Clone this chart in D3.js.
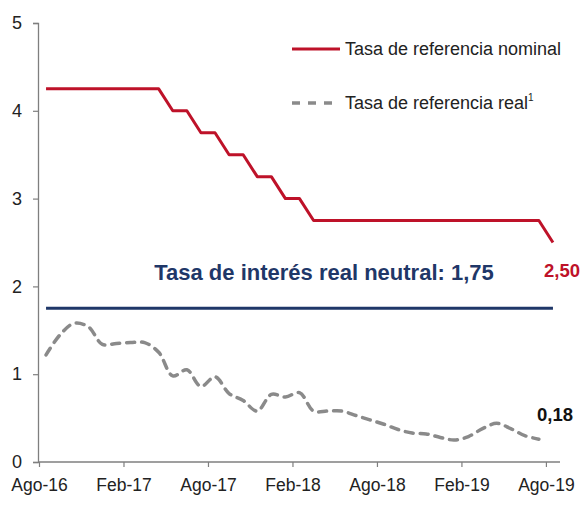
<!DOCTYPE html>
<html>
    <head>
        <script src="https://cdn.jsdelivr.net/npm/d3@7"></script>
        <style>
            body { margin: 0; background: #fff; }
            text { font-family: "Liberation Sans", Arial, sans-serif; }
        </style>
    </head>
    <body>
        <svg id="chart" width="586" height="505"></svg>
        <script>
            // Data (monthly, Ago-16 .. Ago-19)
            var tickLabels = ["Ago-16", "Feb-17", "Ago-17", "Feb-18", "Ago-18", "Feb-19", "Ago-19"];
            var tickIndex = [0, 6, 12, 18, 24, 30, 36];
            var nominal = [4.25, 4.25, 4.25, 4.25, 4.25, 4.25, 4.25, 4.25, 4.25, 4.0, 4.0, 3.75, 3.75,
                           3.5, 3.5, 3.25, 3.25, 3.0, 3.0, 2.75, 2.75, 2.75, 2.75, 2.75, 2.75, 2.75,
                           2.75, 2.75, 2.75, 2.75, 2.75, 2.75, 2.75, 2.75, 2.75, 2.75, 2.5];
            var real = [1.22, 1.45, 1.58, 1.54, 1.34, 1.35, 1.36, 1.36, 1.25, 0.98, 1.05, 0.86, 0.97,
                        0.78, 0.70, 0.58, 0.77, 0.74, 0.79, 0.58, 0.58, 0.58, 0.53, 0.48, 0.43, 0.37,
                        0.33, 0.32, 0.28, 0.25, 0.29, 0.38, 0.44, 0.38, 0.30, 0.26];
            var neutral = 1.75;
            var yTicks = [0, 1, 2, 3, 4, 5];

            var svg = d3.select("svg#chart");

            var x = d3.scaleLinear().domain([0, 37]).range([39, 560]);
            var y = d3.scaleLinear().domain([0, 5]).range([462, 23]);

            // Axes
            var yAxis = d3.axisLeft(y).tickValues(yTicks).tickFormat(d3.format("d")).tickSize(5).tickPadding(11);
            var gy = svg.append("g").attr("transform", "translate(38,0)").call(yAxis);
            var xAxis = d3.axisBottom(x).tickValues(tickIndex).tickFormat(function(d, i) { return tickLabels[i]; }).tickSize(5).tickPadding(12);
            var gx = svg.append("g").attr("transform", "translate(0,462)").call(xAxis);
            gx.select(".domain").attr("d", "M38,0H560");

            [gx, gy].forEach(function(g) {
                g.select(".domain").attr("stroke", "#7f7f7f").attr("stroke-width", 1.3);
                g.selectAll(".tick line").attr("stroke", "#7f7f7f").attr("stroke-width", 1.2);
                g.selectAll(".tick text").attr("fill", "#222").style("font-family", "'Liberation Sans', Arial, sans-serif");
            });
            gy.selectAll(".tick text").style("font-size", "18px");
            gx.selectAll(".tick text").style("font-size", "17.5px");

            // Neutral rate
            svg.append("line")
                .attr("x1", x(0.5)).attr("x2", x(36.5))
                .attr("y1", y(neutral)).attr("y2", y(neutral))
                .attr("stroke", "#1f3768").attr("stroke-width", 3);
            svg.append("text").attr("x", 324).attr("y", 280).attr("text-anchor", "middle")
                .attr("fill", "#1f3768").style("font-size", "22px").style("font-weight", "bold")
                .text("Tasa de interés real neutral: 1,75");

            // Nominal rate
            svg.append("path").datum(nominal)
                .attr("fill", "none").attr("stroke", "#be1229").attr("stroke-width", 3)
                .attr("stroke-linejoin", "round")
                .attr("d", d3.line().x(function(d, i) { return x(i + 0.5); }).y(function(d) { return y(d); }));

            // Real rate
            svg.append("path").datum(real)
                .attr("fill", "none").attr("stroke", "#8a8a8a").attr("stroke-width", 3.5)
                .attr("stroke-dasharray", "8,7").attr("stroke-linecap", "round")
                .attr("d", d3.line().curve(d3.curveCatmullRom.alpha(0.5))
                    .x(function(d, i) { return x(i + 0.5); }).y(function(d) { return y(d); }));

            // End labels
            svg.append("text").attr("x", 562).attr("y", 277).attr("text-anchor", "middle")
                .attr("fill", "#be1229").style("font-size", "18.5px").style("font-weight", "bold")
                .text("2,50");
            svg.append("text").attr("x", 555).attr("y", 421).attr("text-anchor", "middle")
                .attr("fill", "#111").style("font-size", "18.5px").style("font-weight", "bold")
                .text("0,18");

            // Legend
            var legend = svg.append("g");
            legend.append("line").attr("x1", 292).attr("x2", 340).attr("y1", 49).attr("y2", 49)
                .attr("stroke", "#be1229").attr("stroke-width", 3);
            legend.append("text").attr("x", 345).attr("y", 55).attr("fill", "#222")
                .style("font-size", "18px").text("Tasa de referencia nominal");
            legend.append("line").attr("x1", 292).attr("x2", 336).attr("y1", 103).attr("y2", 103)
                .attr("stroke", "#8a8a8a").attr("stroke-width", 3.5).attr("stroke-dasharray", "8,8");
            var t2 = legend.append("text").attr("x", 345).attr("y", 109).attr("fill", "#222")
                .style("font-size", "18px").text("Tasa de referencia real");
            t2.append("tspan").attr("dy", -8).style("font-size", "10px").text("1");
        </script>
    </body>
</html>
